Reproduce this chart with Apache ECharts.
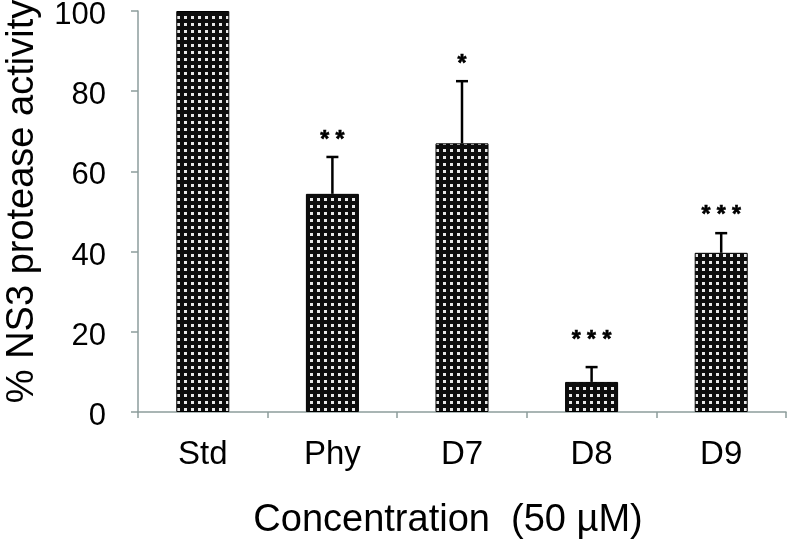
<!DOCTYPE html>
<html>
<head>
<meta charset="utf-8">
<script src="https://cdn.jsdelivr.net/npm/echarts@6/dist/echarts.min.js"></script>
<style>html,body{margin:0;padding:0;background:#fff}#c{width:787px;height:548px}</style>
</head>
<body>
<div id="c"></div>
<script>
var categories = ['Std', 'Phy', 'D7', 'D8', 'D9'];
var means = [100, 54.4, 67.0, 7.5, 39.7];
var errors = [0, 9.2, 15.5, 3.7, 4.9];
var sigLabels = ['', '**', '*', '***', '***'];
var sigValues = [null, 68.3, 87.3, 18.5, 49.6];
var yTicks = [0, 20, 40, 60, 80, 100];

function makePattern() {
  var c = document.createElement('canvas');
  c.width = 7; c.height = 7;
  var g = c.getContext('2d');
  g.fillStyle = '#0d0d0d';
  g.fillRect(0, 0, 7, 7);
  g.fillStyle = '#e8e8e8';
  g.fillRect(2, 2, 3, 3);
  return c;
}

var chart = echarts.init(document.getElementById('c'), null, {renderer: 'canvas'});
var font = 'Liberation Sans, Arial, sans-serif';
var axisColor = '#8d9d9c';

var option = {
  animation: false,
  grid: {left: 138, right: 1, top: 11, bottom: 136, containLabel: false, outerBoundsMode: 'none'},
  xAxis: {
    type: 'category',
    data: categories,
    boundaryGap: true,
    axisLine: {lineStyle: {color: axisColor, width: 1.5}},
    axisTick: {show: true, length: 6, lineStyle: {color: axisColor, width: 1.5}},
    axisLabel: {color: '#000', fontSize: 33, fontFamily: font, margin: 26},
    name: 'Concentration  (50 \u00b5M)',
    nameLocation: 'middle',
    nameGap: 90,
    nameTextStyle: {color: '#000', fontSize: 38, fontFamily: font, padding: [0, 28, 0, 0]}
  },
  yAxis: {
    type: 'value',
    min: 0, max: 100, interval: 20,
    axisLine: {show: true, lineStyle: {color: axisColor, width: 1.5}},
    axisTick: {show: true, length: 7, lineStyle: {color: axisColor, width: 1.5}},
    splitLine: {show: false},
    axisLabel: {color: '#000', fontSize: 31, fontFamily: font, margin: 32,
      formatter: function (v) { return yTicks.indexOf(v) >= 0 ? '{t|' + v + '}' : ''; },
      rich: {t: {color: '#000', fontSize: 31, fontFamily: font, padding: [9, 0, 0, 0]}}},
    name: '% NS3 protease activity',
    nameLocation: 'middle',
    nameGap: 96,
    nameTextStyle: {color: '#000', fontSize: 38, fontFamily: font, padding: [0, 0, 0, 20]}
  },
  series: [
    {
      type: 'bar',
      data: means,
      barWidth: 53,
      itemStyle: {
        color: {image: makePattern(), repeat: 'repeat'},
        borderColor: '#000',
        borderWidth: 1
      },
      z: 2
    },
    {
      type: 'custom',
      z: 3,
      data: categories.map(function (c, i) { return [i, means[i], errors[i], sigValues[i]]; }),
      renderItem: function (params, api) {
        var i = api.value(0);
        var m = api.value(1), e = api.value(2), s = api.value(3);
        var children = [];
        if (e > 0) {
          var p0 = api.coord([i, m]);
          var p1 = api.coord([i, m + e]);
          children.push({type: 'line', shape: {x1: p0[0], y1: p0[1], x2: p1[0], y2: p1[1]},
            style: {stroke: '#000', lineWidth: 2.5}});
          children.push({type: 'line', shape: {x1: p1[0] - 6, y1: p1[1], x2: p1[0] + 6, y2: p1[1]},
            style: {stroke: '#000', lineWidth: 2.5}});
        }
        var lab = sigLabels[params.dataIndex];
        if (lab && s != null && !isNaN(s)) {
          var ps = api.coord([i, s]);
          children.push({type: 'text', x: ps[0], y: ps[1] + 3,
            style: {text: lab.split('').join(' '), fill: '#000', font: 'bold 23px ' + font,
              align: 'center', verticalAlign: 'middle', stroke: '#000', lineWidth: 0.6}});
        }
        return {type: 'group', children: children};
      }
    }
  ]
};
chart.setOption(option);
</script>
</body>
</html>
